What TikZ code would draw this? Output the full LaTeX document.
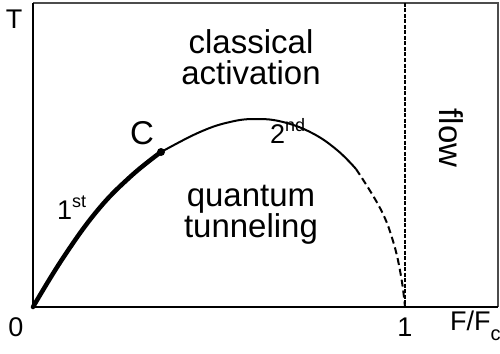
\documentclass[tikz,border=0pt]{standalone}
\usepackage{fontspec}
\setmainfont{Liberation Sans}
\begin{document}
\begin{tikzpicture}[x=1pt,y=-1pt,
  lbl/.style={inner sep=0pt,font=\fontsize{33}{31}\selectfont,align=center},
  axlbl/.style={inner sep=0pt,font=\fontsize{27}{28}\selectfont},
  ordlbl/.style={inner sep=0pt,font=\fontsize{27}{27}\selectfont},
  frame/.style={line width=1.2pt,black},
  axisline/.style={line width=2.2pt,black}]
\useasboundingbox (0,0) rectangle (500,353);
% frame corners
\coordinate (O) at (33,307);
\coordinate (TL) at (33,3);
\coordinate (TR) at (498,3);
\coordinate (BR) at (498,307);
\coordinate (Vtop) at (405,3);
\coordinate (Vbot) at (405,307);
\draw[frame,black!70] (TL) -- (TR) -- (BR);
\draw[axisline] (TL) -- (O) -- (BR);
\draw[line width=1.8pt,dash pattern=on 4pt off 1.5pt] (Vtop) -- (Vbot);
% curve
\coordinate (C) at (161,152);
\coordinate (D) at (356,169);
\draw[line width=4.5pt,line cap=round] plot[smooth,tension=0.7] coordinates {(33,307) (63,258) (97,211) (130,177) (161,152)};
\draw[line width=2pt] plot[smooth,tension=0.7] coordinates {(158,154) (161,152) (200,132) (230,122) (256,119) (283,122) (312,133) (337,150) (356,169)};
\draw[line width=2pt,dash pattern=on 7pt off 4pt] plot[smooth,tension=0.7] coordinates {(356,169) (380,208) (393,241) (401,276) (405,307)};
\fill (C) circle (4pt);
% labels
\node[lbl] (cl) at (251,57) {classical\\activation};
\node[lbl] (qt) at (251,215) {quantum\\tunneling};
\node[lbl,rotate=-90] (flow) at (451,138) {flow};
\node[lbl,anchor=base] (Clab) at (142,144) {C};
\node[ordlbl,anchor=base west] (first) at (57,219) {1\raisebox{0.42em}{\fontsize{18}{18}\selectfont st}};
\node[ordlbl,anchor=base west] (second) at (270,143) {2\raisebox{0.42em}{\fontsize{18}{18}\selectfont nd}};
\node[axlbl] (T) at (14,19) {T};
\node[axlbl] (zero) at (16,327) {0};
\node[axlbl] (one) at (405,327) {1};
\node[axlbl,anchor=west] (FF) at (450,326) {F/F\raisebox{-0.35em}{\fontsize{20}{20}\selectfont c}};
\end{tikzpicture}
\end{document}
